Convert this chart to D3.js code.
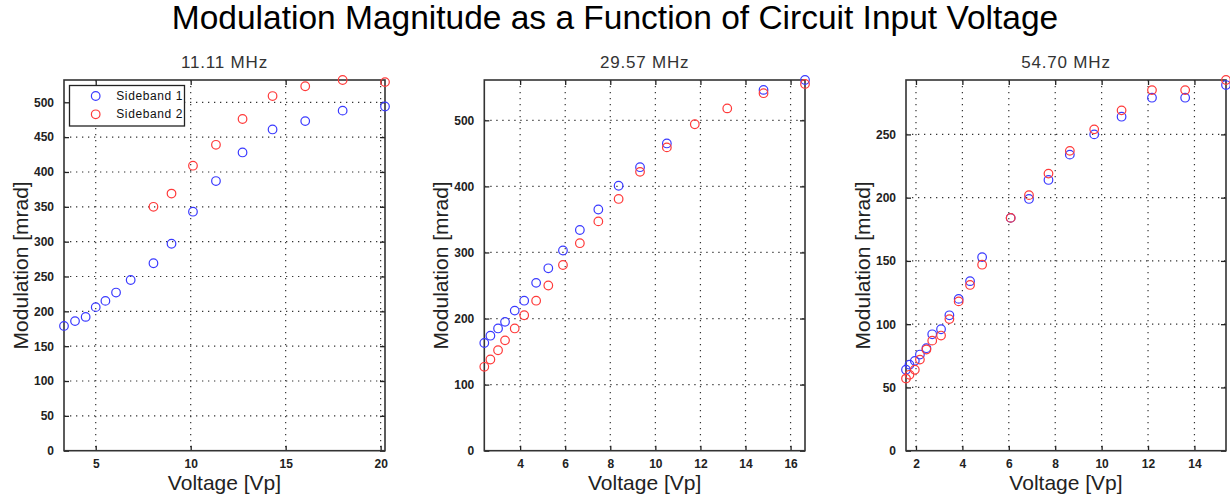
<!DOCTYPE html>
<html lang="en">
  <head>
    <meta charset="utf-8">
    <title>Modulation Magnitude</title>
    <script src="https://d3js.org/d3.v7.min.js"></script>
    <style>
      body { margin: 0; background: white; }
      text { font-family: "Liberation Sans", Arial, sans-serif; }
      .tick text { font-family: "Liberation Sans Narrow", "Liberation Sans", Arial, sans-serif; font-weight: bold; font-size: 12px; fill: #222; }
      .grid line { stroke: #333; stroke-width: 1.2; stroke-dasharray: 1.3,4.7; }
    </style>
  </head>
  <body>
    <script>
      // panel titles and axis ticks
      const panelTitles = ["11.11 MHz", "29.57 MHz", "54.70 MHz"];
      const xTicks1 = [5, 10, 15, 20];
      const yTicks1 = [0, 50, 100, 150, 200, 250, 300, 350, 400, 450, 500];
      const xTicks2 = [4, 6, 8, 10, 12, 14, 16];
      const yTicks2 = [0, 100, 200, 300, 400, 500];
      const xTicks3 = [2, 4, 6, 8, 10, 12, 14];
      const yTicks3 = [0, 50, 100, 150, 200, 250];

      // 11.11 MHz
      const volt1 = [3.33, 3.91, 4.47, 5.0, 5.51, 6.07, 6.84, 8.04, 8.99, 10.12, 11.33, 12.73, 14.31, 16.03, 18.0, 20.23];
      const sb1_1 = [179, 186, 192, 206, 215, 227, 245, 269, 297, 343, 387, 428, 461, 473, 488, 494];
      const sb2_1 = [null, null, null, null, null, null, null, 350, 369, 409, 439, 476, 509, 523, 532, 529];

      // 29.57 MHz
      const volt2 = [2.41, 2.68, 3.02, 3.33, 3.76, 4.18, 4.71, 5.25, 5.90, 6.65, 7.47, 8.37, 9.32, 10.51, 11.75, 13.19, 14.80, 16.64];
      const sb1_2 = [163, 174, 185, 195, 212, 227, 254, 276, 303, 334, 365, 401, 429, 465, null, null, 546, 561];
      const sb2_2 = [127, 138, 152, 167, 185, 205, 227, 250, 281, 314, 347, 381, 422, 459, 494, 518, 541, 555];

      // 54.70 MHz
      const volt3 = [1.57, 1.72, 1.95, 2.17, 2.45, 2.70, 3.08, 3.44, 3.84, 4.33, 4.85, 6.08, 6.87, 7.71, 8.63, 9.68, 10.86, 12.17, 13.60, 15.36];
      const sb1_3 = [64, 68, 71, 76, 81, 92, 96, 107, 120, 134, 153, 184, 199, 214, 234, 250, 264, 279, 279, 289];
      const sb2_3 = [57, 60, 64, 72, 80, 87, 91, 104, 118, 131, 147, 184, 202, 219, 237, 254, 269, 285, 285, 293];

      const width = 1230;
      const height = 498;
      const plotTop = 80, plotBottom = 450.7;

      const panels = [
        { title: panelTitles[0], x: volt1, s1: sb1_1, s2: sb2_1, xt: xTicks1, yt: yTicks1, left: 64, right: 385, legend: true },
        { title: panelTitles[1], x: volt2, s1: sb1_2, s2: sb2_2, xt: xTicks2, yt: yTicks2, left: 484.3, right: 805 },
        { title: panelTitles[2], x: volt3, s1: sb1_3, s2: sb2_3, xt: xTicks3, yt: yTicks3, left: 906, right: 1226 }
      ];

      const svg = d3.select("body").append("svg")
                    .attr("width", width)
                    .attr("height", height);

      svg.append("text")
         .attr("x", 615).attr("y", 29)
         .attr("text-anchor", "middle")
         .style("font-size", "33.5px")
         .style("fill", "#000")
         .text("Modulation Magnitude as a Function of Circuit Input Voltage");

      panels.forEach((p) => {
        const xScale = d3.scaleLinear()
                         .domain(d3.extent(p.x))
                         .range([p.left, p.right]);
        const yMax = d3.max(p.s1.concat(p.s2));
        const yScale = d3.scaleLinear()
                         .domain([0, yMax])
                         .range([plotBottom, plotTop]);
        const w = p.right - p.left;
        const h = plotBottom - plotTop;

        const g = svg.append("g");

        // dotted grid
        g.append("g").attr("class", "grid")
         .selectAll("line").data(p.xt).enter().append("line")
         .attr("x1", (d) => xScale(d)).attr("x2", (d) => xScale(d))
         .attr("y1", plotTop).attr("y2", plotBottom);
        g.append("g").attr("class", "grid")
         .selectAll("line").data(p.yt.filter((d) => d > 0)).enter().append("line")
         .attr("y1", (d) => yScale(d)).attr("y2", (d) => yScale(d))
         .attr("x1", p.left).attr("x2", p.right);

        // axes with inward ticks on all four sides
        const xb = g.append("g").attr("transform", `translate(0,${plotBottom})`)
                    .call(d3.axisBottom(xScale).tickValues(p.xt).tickSize(-5).tickPadding(9).tickFormat(d3.format("d")));
        const yl = g.append("g").attr("transform", `translate(${p.left},0)`)
                    .call(d3.axisLeft(yScale).tickValues(p.yt).tickSize(-5).tickPadding(10).tickFormat(d3.format("d")));
        const xt = g.append("g").attr("transform", `translate(0,${plotTop})`)
                    .call(d3.axisTop(xScale).tickValues(p.xt).tickSize(-5).tickFormat(""));
        const yr = g.append("g").attr("transform", `translate(${p.right},0)`)
                    .call(d3.axisRight(yScale).tickValues(p.yt).tickSize(-5).tickFormat(""));
        [xb, yl, xt, yr].forEach((a) => {
          a.select(".domain").remove();
          a.selectAll(".tick line").attr("stroke", "#222").attr("stroke-width", 1.3);
        });

        g.append("rect")
         .attr("x", p.left).attr("y", plotTop)
         .attr("width", w).attr("height", h)
         .attr("fill", "none")
         .attr("stroke", "#333")
         .attr("stroke-width", 1.6);

        // markers
        const pts1 = p.x.map((v, i) => [v, p.s1[i]]).filter((d) => d[1] !== null);
        const pts2 = p.x.map((v, i) => [v, p.s2[i]]).filter((d) => d[1] !== null);
        g.append("g").selectAll("circle").data(pts1).enter().append("circle")
         .attr("cx", (d) => xScale(d[0])).attr("cy", (d) => yScale(d[1]))
         .attr("r", 4.3).attr("fill", "none").attr("stroke", "#3a3aff").attr("stroke-width", 1.2);
        g.append("g").selectAll("circle").data(pts2).enter().append("circle")
         .attr("cx", (d) => xScale(d[0])).attr("cy", (d) => yScale(d[1]))
         .attr("r", 4.3).attr("fill", "none").attr("stroke", "#ff3a3a").attr("stroke-width", 1.2);

        // titles and labels
        svg.append("text")
           .attr("x", p.left + w / 2).attr("y", 68)
           .attr("text-anchor", "middle")
           .style("font-size", "17px").style("fill", "#333")
           .style("letter-spacing", "0.8px")
           .text(p.title);
        svg.append("text")
           .attr("x", p.left + w / 2).attr("y", 490)
           .attr("text-anchor", "middle")
           .style("font-size", "21px").style("fill", "#222")
           .text("Voltage [Vp]");
        svg.append("text")
           .attr("transform", `translate(${p.left - 36},${plotTop + h / 2}) rotate(-90)`)
           .attr("text-anchor", "middle")
           .style("font-size", "21px").style("fill", "#222")
           .text("Modulation [mrad]");

        if (p.legend) {
          const lg = g.append("g");
          lg.append("rect")
            .attr("x", p.left + 5.5).attr("y", 85.5)
            .attr("width", 115).attr("height", 40.5)
            .attr("fill", "white").attr("stroke", "#222").attr("stroke-width", 1.3);
          const items = [["Sideband 1", "#3a3aff"], ["Sideband 2", "#ff3a3a"]];
          items.forEach((it, i) => {
            lg.append("circle")
              .attr("cx", p.left + 31.7).attr("cy", 96 + i * 18.3)
              .attr("r", 4.3).attr("fill", "none").attr("stroke", it[1]).attr("stroke-width", 1.2);
            lg.append("text")
              .attr("x", p.left + 119).attr("y", 100 + i * 18.3)
              .attr("text-anchor", "end")
              .style("font-size", "12px").style("fill", "#111")
              .style("letter-spacing", "0.6px")
              .text(it[0]);
          });
        }
      });
    </script>
  </body>
</html>
